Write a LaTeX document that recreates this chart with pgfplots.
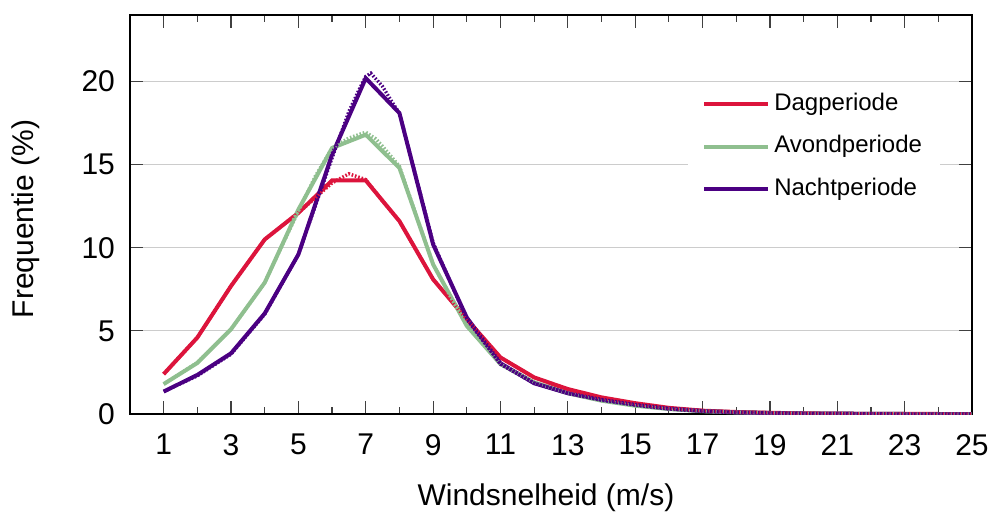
\documentclass[border=0pt]{standalone}
\usepackage{fontspec}
\setmainfont{Liberation Sans}
\usepackage{pgfplots}
\pgfplotsset{compat=1.18}
\definecolor{cDag}{RGB}{220,20,60}
\definecolor{cAvond}{RGB}{143,191,143}
\definecolor{cNacht}{RGB}{75,0,130}
\begin{document}
\begin{tikzpicture}
\begin{axis}[
  scale only axis, width=421pt, height=199.5pt,
  xmin=0, xmax=25, ymin=0, ymax=24,
  xtick={1,3,...,25}, minor xtick={2,4,...,24}, ytick={0,5,10,15,20},
  tick align=inside, major tick length=6.5pt, minor tick length=3.5pt,
  tick style={black!75, line width=0.6pt},
  axis line style={black, line width=0.7pt},
  ymajorgrids, grid style={black!20, line width=0.6pt},
  /pgf/number format/assume math mode=true,
  ticklabel style={font=\fontsize{15}{18}\selectfont},
  xticklabel style={yshift=-6.5pt},
  yticklabel style={xshift=-4pt},
  xlabel={Windsnelheid (m/s)}, ylabel={Frequentie (\%)},
  label style={font=\fontsize{15}{18}\selectfont},
  xlabel style={at={(axis description cs:0.494,-0.1729)}, anchor=north, inner sep=0pt},
  ylabel style={at={(axis description cs:-0.1069,0.489)}, anchor=south, inner sep=0pt},
  legend style={at={(0.6626,0.8225)}, anchor=north west, draw=none, fill=white,
    inner xsep=7pt, inner ysep=1pt, font=\fontsize{12}{14}\selectfont, row sep=5.3pt,
    nodes={inner sep=2pt, text height=9pt, text depth=3pt}},
  legend cell align=left,
  legend image code/.code={\draw[#1,line width=2pt,solid] (0pt,0pt) -- (29pt,0pt); \path (0pt,0pt) -- (32pt,0pt);},
]
\coordinate (bl) at (rel axis cs:0,0);
% solid lines (observed)
\addplot[cDag, line width=2pt] coordinates {
(1,2.4)(2,4.6)(3,7.7)(4,10.5)(5,12.1)(6,14.05)(7,14.05)(8,11.6)(9,8.1)(10,5.7)(11,3.4)(12,2.2)(13,1.5)(14,1.0)(15,0.65)(16,0.37)(17,0.2)(18,0.12)(19,0.07)(20,0.04)(21,0.02)(22,0.01)(23,0.01)(24,0)(25,0)};
\addlegendentry{Dagperiode}
\addplot[cAvond, line width=2pt] coordinates {
(1,1.8)(2,3.07)(3,5.1)(4,7.9)(5,12.3)(6,16.0)(7,16.8)(8,14.8)(9,9.0)(10,5.3)(11,3.0)(12,1.9)(13,1.25)(14,0.8)(15,0.5)(16,0.3)(17,0.17)(18,0.1)(19,0.06)(20,0.03)(21,0.02)(22,0.01)(23,0)(24,0)(25,0)};
\addlegendentry{Avondperiode}
\addplot[cNacht, line width=2pt] coordinates {
(1,1.35)(2,2.35)(3,3.65)(4,6.05)(5,9.6)(6,15.6)(7,20.2)(8,18.1)(9,10.2)(10,5.8)(11,3.05)(12,1.85)(13,1.25)(14,0.85)(15,0.55)(16,0.32)(17,0.18)(18,0.1)(19,0.06)(20,0.03)(21,0.02)(22,0.01)(23,0)(24,0)(25,0)};
\addlegendentry{Nachtperiode}
% dotted lines (fitted)
\addplot[cDag, line width=1.7pt, dash pattern=on 0.8pt off 0.9pt, forget plot] coordinates {
(1,2.4)(2,4.6)(3,7.7)(4,10.5)(5,12.1)(5.5,13.0)(6,13.9)(6.5,14.45)(7,14.1)(7.5,12.8)(8,11.6)(9,8.1)(10,5.7)(11,3.4)(12,2.2)(13,1.45)(14,0.95)(15,0.6)(16,0.35)(17,0.2)(18,0.12)(19,0.07)(20,0.04)(21,0.02)(22,0.01)(23,0.01)(24,0)(25,0)};
\addplot[cAvond, line width=1.7pt, dash pattern=on 0.8pt off 0.9pt, forget plot] coordinates {
(1,1.8)(2,3.1)(3,5.1)(4,7.9)(5,12.2)(5.5,14.3)(6,16.0)(6.5,16.6)(7,16.95)(7.3,16.55)(7.5,16.1)(8,14.9)(9,9.0)(10,5.3)(11,3.0)(12,1.9)(13,1.25)(14,0.8)(15,0.5)(16,0.3)(17,0.17)(18,0.1)(19,0.06)(20,0.03)(21,0.02)(22,0.01)(23,0)(24,0)(25,0)};
\addplot[cNacht, line width=1.7pt, dash pattern=on 0.8pt off 0.9pt, forget plot] coordinates {
(1,1.35)(2,2.3)(3,3.6)(4,6.0)(5,9.6)(6,15.4)(6.5,18.2)(6.8,19.5)(7,20.3)(7.15,20.5)(7.5,19.7)(7.8,18.7)(8,18.1)(9,10.3)(10,5.7)(11,3.0)(12,1.85)(13,1.25)(14,0.85)(15,0.55)(16,0.32)(17,0.18)(18,0.1)(19,0.06)(20,0.03)(21,0.02)(22,0.01)(23,0)(24,0)(25,0)};
\end{axis}
\pgfresetboundingbox
\useasboundingbox ([shift={(-65pt,-50.5pt)}]bl) rectangle ([shift={(431pt,207pt)}]bl);
\end{tikzpicture}
\end{document}
